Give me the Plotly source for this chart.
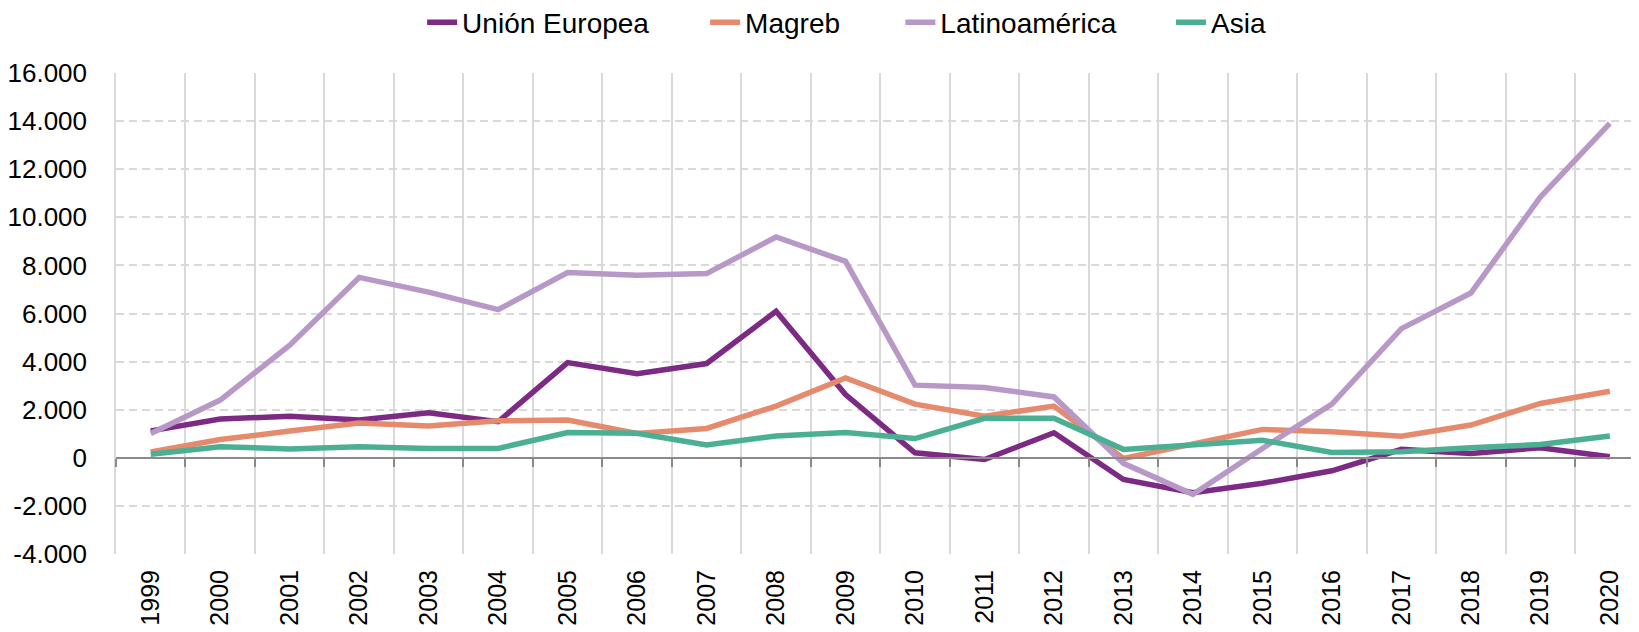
import plotly.graph_objects as go

years = [str(y) for y in range(1999, 2021)]

union_europea = [1120, 1610, 1730, 1570, 1870, 1500, 3960, 3500, 3920, 6090, 2630,
                 210, -70, 1040, -900, -1450, -1060, -540, 350, 180, 420, 40]
magreb = [240, 760, 1110, 1450, 1320, 1540, 1570, 1010, 1220, 2150, 3320,
          2230, 1730, 2150, -30, 600, 1180, 1080, 900, 1360, 2260, 2770]
latinoamerica = [1010, 2400, 4680, 7500, 6890, 6160, 7700, 7590, 7660, 9180, 8170,
                 3020, 2920, 2530, -230, -1520, 390, 2230, 5370, 6850, 10840, 13910]
asia = [150, 460, 370, 460, 390, 390, 1050, 1020, 530, 910, 1050,
        800, 1640, 1640, 350, 530, 730, 220, 250, 420, 550, 910]

series_names = ["Unión Europea", "Magreb", "Latinoamérica", "Asia"]
series_colors = ["#7D2A84", "#E68A6E", "#B898C6", "#4BAF93"]

y_tickvals = [-4000, -2000, 0, 2000, 4000, 6000, 8000, 10000, 12000, 14000, 16000]
y_ticktext = ["-4.000", "-2.000", "0", "2.000", "4.000", "6.000", "8.000",
              "10.000", "12.000", "14.000", "16.000"]

AXIS_FONT = dict(family="Liberation Sans, Arial", size=26, color="#000000")
XAXIS_FONT = dict(family="Liberation Sans, Arial", size=25, color="#000000")
LEG_FONT = dict(family="Liberation Sans, Arial", size=28, color="#000000")

legend_ids = ["legend", "legend2", "legend3", "legend4"]
legend_x = [0.201, 0.3868, 0.515, 0.6927]

fig = go.Figure()
for name, vals, col, lg in zip(series_names, [union_europea, magreb, latinoamerica, asia],
                               series_colors, legend_ids):
    fig.add_trace(go.Scatter(x=years, y=vals, name=name, mode="lines", legend=lg,
                             line=dict(color=col, width=5.5)))

# invisible trace to carry the zero-line axis with boundary ticks
fig.add_trace(go.Scatter(x=years, y=union_europea, xaxis="x2", mode="lines",
                         line=dict(width=0), opacity=0, showlegend=False, hoverinfo="skip"))

legends = {lg: dict(orientation="h", x=lx, xanchor="left", y=1.105, yanchor="middle",
                    font=LEG_FONT, bgcolor="rgba(0,0,0,0)")
           for lg, lx in zip(legend_ids, legend_x)}

xr = [-0.5, 21.42]
fig.update_layout(
    width=1631, height=624,
    margin=dict(l=108, r=0, t=65, b=78, autoexpand=False),
    paper_bgcolor="white", plot_bgcolor="white",
    showlegend=True,
    xaxis=dict(type="category", range=xr, tickson="boundaries", showgrid=True,
               gridcolor="#d9d9d9", gridwidth=1.5, showline=False, ticks="",
               tickangle=-90, tickfont=XAXIS_FONT, zeroline=False,
               ticklabelstandoff=10, automargin=False),
    xaxis2=dict(type="category", range=xr, overlaying="x", anchor="free", position=0.2,
                tickson="boundaries", showgrid=False, showline=True, linecolor="#8a8a8a",
                linewidth=1.5, ticks="outside", ticklen=8, tickwidth=1.5, tickcolor="#8a8a8a",
                showticklabels=False, zeroline=False),
    yaxis=dict(range=[-4000, 16000], tickvals=y_tickvals, ticktext=y_ticktext,
               showgrid=True, gridcolor="#d9d9d9", gridwidth=1.5, griddash="8px,5px",
               zeroline=False, showline=True, linecolor="#d9d9d9", linewidth=1.5,
               ticks="", tickfont=AXIS_FONT, ticklabelstandoff=22, automargin=False),
    **legends,
)

fig.write_html("out.html")
